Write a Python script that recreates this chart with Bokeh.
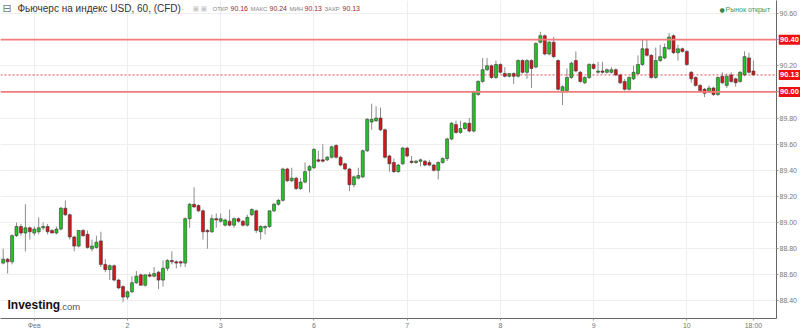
from bokeh.plotting import figure
from bokeh.layouts import row
from bokeh.models import Range1d, FixedTicker, Span, Label, PrintfTickFormatter
from bokeh.core.properties import value
from bokeh.embed import file_html
from bokeh.resources import INLINE

# ---- data (hourly candles, 0-based index) ----
opens = [88.69,88.72,88.70,88.90,88.97,88.92,88.96,88.92,88.93,88.96,88.97,88.94,88.92,88.95,89.11,89.06,88.89,88.82,88.94,88.91,
         88.80,88.81,88.86,88.68,88.64,88.67,88.56,88.51,88.43,88.47,88.54,88.60,88.52,88.60,88.59,88.62,88.56,88.65,88.71,88.70,
         88.70,88.69,89.03,89.14,89.13,89.09,88.94,88.93,89.03,89.01,88.98,89.01,88.98,89.03,89.01,88.98,89.06,89.09,88.93,88.96,
         88.97,89.09,89.14,89.17,89.41,89.32,89.34,89.26,89.31,89.40,89.42,89.48,89.48,89.48,89.50,89.59,89.50,89.45,89.41,89.29,
         89.34,89.35,89.55,89.77,89.78,89.80,89.71,89.51,89.46,89.39,89.45,89.57,89.47,89.46,89.47,89.47,89.46,89.44,89.40,89.46,
         89.49,89.64,89.75,89.69,89.72,89.76,89.70,89.98,90.08,90.17,90.20,90.11,90.21,90.14,90.12,90.14,90.12,90.24,90.15,90.24,
         90.19,90.38,90.43,90.29,90.38,90.24,90.00,90.01,90.11,90.24,90.15,90.07,90.11,90.21,90.15,90.16,90.15,90.15,90.17,90.13,
         90.08,90.02,90.10,90.14,90.21,90.33,90.28,90.11,90.24,90.26,90.33,90.43,90.30,90.33,90.31,90.15,90.11,90.05,90.02,90.00,
         90.03,89.98,90.12,90.05,90.13,90.10,90.08,90.13,90.26,90.16]
highs = [88.80,88.73,88.91,89.00,88.99,89.14,88.97,88.97,89.04,89.00,88.99,88.95,88.97,89.12,89.17,89.07,88.90,88.94,88.95,88.94,
         88.87,88.90,88.93,88.72,88.68,88.68,88.57,88.52,88.48,88.59,88.63,88.61,88.60,88.62,88.66,88.63,88.71,88.72,88.78,88.71,
         88.71,89.04,89.15,89.27,89.14,89.10,88.95,89.06,89.07,89.07,89.03,89.10,89.04,89.04,89.02,89.06,89.11,89.10,88.98,88.98,
         89.09,89.15,89.18,89.42,89.42,89.42,89.35,89.34,89.46,89.44,89.57,89.55,89.60,89.51,89.59,89.60,89.51,89.46,89.42,89.36,
         89.42,89.56,89.80,89.91,89.89,89.88,89.72,89.52,89.49,89.45,89.58,89.58,89.51,89.48,89.49,89.48,89.48,89.45,89.47,89.50,
         89.65,89.77,89.78,89.78,89.77,89.80,90.01,90.09,90.26,90.26,90.21,90.24,90.22,90.19,90.14,90.15,90.25,90.25,90.25,90.25,
         90.38,90.46,90.44,90.39,90.42,90.25,90.05,90.18,90.23,90.31,90.16,90.12,90.22,90.22,90.23,90.23,90.18,90.19,90.18,90.14,
         90.10,90.12,90.20,90.28,90.40,90.40,90.29,90.34,90.36,90.37,90.45,90.44,90.36,90.34,90.32,90.16,90.12,90.06,90.03,90.05,
         90.04,90.12,90.15,90.14,90.15,90.11,90.16,90.31,90.30,90.24]
lows = [88.68,88.61,88.68,88.89,88.90,88.78,88.87,88.90,88.91,88.94,88.91,88.92,88.91,88.94,89.05,88.87,88.78,88.81,88.89,88.80,
        88.78,88.80,88.66,88.62,88.56,88.55,88.49,88.39,88.41,88.46,88.53,88.52,88.51,88.58,88.58,88.49,88.51,88.63,88.68,88.65,
        88.66,88.66,88.96,89.11,89.08,88.87,88.80,88.92,88.96,89.00,88.97,88.97,88.96,89.00,88.97,88.97,89.05,88.92,88.87,88.91,
        88.96,89.08,89.13,89.16,89.31,89.31,89.25,89.25,89.30,89.23,89.41,89.46,89.46,89.47,89.49,89.49,89.43,89.40,89.24,89.27,
        89.33,89.34,89.54,89.71,89.77,89.70,89.49,89.39,89.38,89.38,89.44,89.50,89.45,89.45,89.43,89.43,89.43,89.39,89.33,89.45,
        89.47,89.63,89.68,89.68,89.71,89.69,89.69,89.97,90.07,90.16,90.10,90.10,90.14,90.11,90.11,90.06,90.11,90.14,90.10,90.03,
        90.18,90.37,90.28,90.28,90.26,90.01,89.90,89.99,90.10,90.15,90.07,90.06,90.10,90.17,90.14,90.14,90.14,90.14,90.12,90.06,
        90.01,90.01,90.09,90.13,90.20,90.27,90.10,90.10,90.23,90.25,90.32,90.29,90.24,90.30,90.20,90.07,90.04,90.00,89.96,89.99,
        89.97,89.97,90.06,90.03,90.07,90.04,90.07,90.12,90.14,90.13]
closes = [88.72,88.70,88.90,88.97,88.92,88.96,88.93,88.95,88.96,88.97,88.93,88.92,88.95,89.11,89.06,88.89,88.82,88.94,88.90,88.81,
          88.82,88.85,88.68,88.64,88.67,88.56,88.50,88.43,88.47,88.54,88.59,88.52,88.60,88.59,88.61,88.56,88.65,88.71,88.70,88.69,
          88.69,89.03,89.14,89.12,89.09,88.93,88.93,89.03,89.02,89.03,89.02,88.98,89.03,89.01,88.98,89.04,89.10,88.94,88.97,88.97,
          89.09,89.14,89.17,89.41,89.32,89.34,89.26,89.31,89.39,89.43,89.56,89.47,89.47,89.50,89.58,89.50,89.44,89.41,89.29,89.35,
          89.36,89.55,89.79,89.79,89.80,89.71,89.50,89.45,89.39,89.44,89.57,89.51,89.46,89.47,89.48,89.44,89.44,89.40,89.46,89.49,
          89.64,89.76,89.69,89.72,89.76,89.70,90.00,90.08,90.17,90.20,90.11,90.21,90.15,90.12,90.14,90.12,90.24,90.15,90.24,90.18,
          90.37,90.43,90.29,90.38,90.27,90.02,90.04,90.11,90.22,90.16,90.08,90.11,90.21,90.18,90.16,90.15,90.17,90.17,90.13,90.07,
          90.02,90.11,90.15,90.21,90.33,90.28,90.11,90.24,90.27,90.34,90.42,90.30,90.33,90.31,90.21,90.10,90.05,90.01,89.99,90.03,
          89.98,90.11,90.07,90.12,90.08,90.07,90.15,90.27,90.15,90.13]

x_tick_pos = [7, 28, 49, 70, 91, 112, 133, 154, 169]
x_tick_labels = ["Фев", "2", "3", "6", "7", "8", "9", "10", "18:00"]
y_ticks = [88.40, 88.60, 88.80, 89.00, 89.20, 89.40, 89.60, 89.80, 90.00, 90.20, 90.40, 90.60]
level_lines = [90.40, 90.00]
last_price = 90.13
ohlc_info = [("ОТКР", "90.16"), ("МАКС", "90.24"), ("МИН", "90.13"), ("ЗАКР", "90.13")]

GREEN = "#22c422"
RED = "#d4151c"
TAG = "#f00f0f"

idx = list(range(len(opens)))
tops = [max(o, c) for o, c in zip(opens, closes)]
bots = [min(o, c) for o, c in zip(opens, closes)]
cols = [GREEN if c >= o else RED for o, c in zip(opens, closes)]

yr = Range1d(88.266, 90.6996)
BOTTOM = 11

p = figure(width=800, height=331, output_backend="svg", toolbar_location=None,
           x_range=Range1d(-0.608, 174.2), y_range=yr,
           min_border_left=0, min_border_top=0, min_border_right=0, min_border_bottom=BOTTOM,
           x_axis_location="below", y_axis_location="right")
p.outline_line_color = None
p.background_fill_color = "white"

# axes
p.xaxis.ticker = FixedTicker(ticks=x_tick_pos)
p.xaxis.major_label_overrides = {t: l for t, l in zip(x_tick_pos, x_tick_labels)}
p.yaxis.ticker = FixedTicker(ticks=y_ticks)
p.yaxis.formatter = PrintfTickFormatter(format="%.2f")
p.yaxis.major_label_overrides = {lv: "" for lv in level_lines}
for ax in (p.xaxis, p.yaxis):
    ax.axis_line_color = "#666666"
    ax.major_tick_line_color = "#999999"
    ax.minor_tick_line_color = None
    ax.major_tick_in = 0
    ax.major_tick_out = 2
    ax.major_label_text_font = "Liberation Sans"
    ax.major_label_text_font_size = "7px"
    ax.major_label_text_color = "#777777"
    ax.major_label_standoff = 1
p.grid.grid_line_color = "#eeeeee"

# candles
p.segment(x0=idx, y0=lows, x1=idx, y1=highs, line_color="#8c8c8c", line_width=1)
p.vbar(x=idx, width=0.68, top=tops, bottom=bots, fill_color=cols, line_color="#3a3a3a", line_width=0.6)

# level lines
for lv in level_lines:
    p.add_layout(Span(location=lv, dimension="width", line_color="#f27b7b", line_width=1.6))
p.add_layout(Span(location=last_price, dimension="width", line_color="#d0202a", line_width=0.8, line_dash="2 2"))

# header
FH = 320
def lab(x, y, text, size, color, style="normal", font="Liberation Sans"):
    p.add_layout(Label(x=x, y=y, x_units="screen", y_units="screen", text=text,
                       text_font=font, text_font_size=size, text_color=color,
                       text_font_style=style, text_baseline="middle", text_align="left"))

lab(2, FH - 10, "⊟", "11px", "#777777", font="DejaVu Sans")
lab(17, FH - 10, "Фьючерс на индекс USD, 60, (CFD)", "10px", "#333333")
lab(181, FH - 10, "-", "8px", "#bbbbbb")
lab(192, FH - 10, "▣", "7px", "#c8c8c8", font="DejaVu Sans")
lab(200, FH - 10, "▣", "7px", "#c8c8c8", font="DejaVu Sans")
kx = [212, 250, 289, 324]
vx = [230, 269, 304, 342]
for (k, v), xk, xv in zip(ohlc_info, kx, vx):
    lab(xk, FH - 10, k, "6px", "#888888")
    lab(xv, FH - 10, v, "7px", "#9a2a2a")
lab(719, FH - 11, "●", "6px", "#2e8b4e", font="DejaVu Sans")
lab(725, FH - 11, "Рынок открыт", "7px", "#3a9a5a")

# logo
lab(7, 14, "Investing", "12px", "#111111", style="bold")
lab(59, 12, ".com", "9.5px", "#555555")

# price tags laid over the right axis (same y scale)
tag_vals = level_lines + [last_price]
side = figure(width=22, height=331, output_backend="svg", toolbar_location=None,
              x_range=Range1d(0, 1), y_range=yr, x_axis_type=None, y_axis_type=None,
              min_border_left=0, min_border_top=0, min_border_right=0, min_border_bottom=BOTTOM,
              margin=(0, 0, 0, -22))
side.outline_line_color = None
side.background_fill_color = None
side.border_fill_color = None
side.grid.visible = False
side.rect(x=0.5, y=tag_vals, width=1, height=10, height_units="screen", fill_color=TAG, line_color=None)
side.text(x=0.5, y=tag_vals, text=["%.2f" % v for v in tag_vals], text_align="center", text_baseline="middle",
          text_color="white", text_font=value("Liberation Sans"), text_font_style="bold", text_font_size="7.5px")

layout = row(p, side, spacing=0)
html = file_html(layout, INLINE)
open("out.html", "w").write(html)
